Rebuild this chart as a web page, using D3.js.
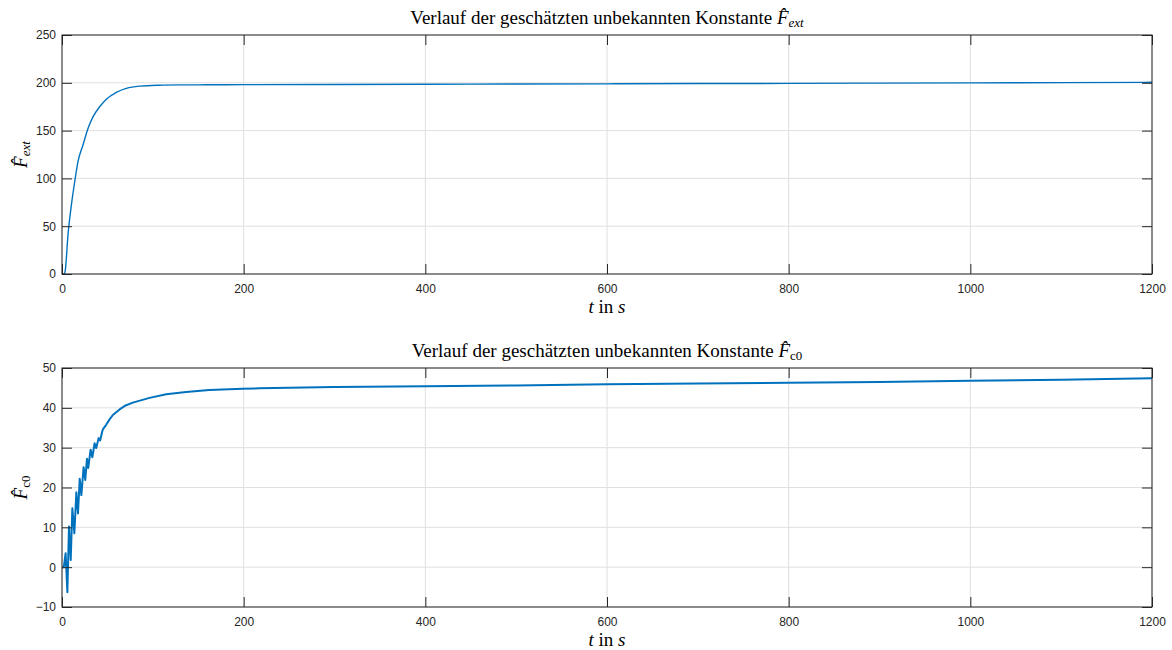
<!DOCTYPE html>
<html>
<head>
<meta charset="utf-8">
<script src="https://cdn.jsdelivr.net/npm/d3@7"></script>
<style>
  body { margin: 0; background: #fff; }
  svg { display: block; }
  .tick text { font-family: "Liberation Sans", Arial, sans-serif; font-size: 12px; fill: #262626; }
  .ttl, .lbl { font-family: "Liberation Serif", "Times New Roman", serif; fill: #000; }
</style>
</head>
<body>
<svg id="chart" width="1172" height="650"></svg>
<script>
// Estimated external force F_ext over time
const tExt = [0, 2.5, 3.5, 6.6, 10.3, 14, 17.6, 23.1, 28.6, 34.1, 41.4, 48.8, 59.8, 70.8, 85.4, 107, 129, 160, 200, 300, 400, 500, 600, 700, 800, 900, 1000, 1100, 1200];
const fExt = [0, 0, 3, 41, 72, 96.6, 117.5, 135, 152.3, 164.4, 174.9, 182.9, 189.9, 194.1, 196.5, 197.5, 197.8, 197.9, 198.1, 198.3, 198.5, 198.7, 198.9, 199.2, 199.4, 199.7, 199.9, 200.2, 200.5];

// Estimated constant F_c0 over time
const tC0 = [0, 2, 4, 5.9, 7.7, 9.6, 11.4, 13.6, 15.8, 17.6, 19.5, 21.3, 23.8, 25.6, 27.5, 28.9, 31.5, 33.4, 35.9, 37.7, 40.3, 42, 44, 45, 48.8, 52.4, 56, 63.4, 70, 78, 96.4, 114.7, 136.7, 162, 199, 217, 300, 400, 500, 600, 700, 800, 900, 1000, 1100, 1150, 1200];
const fC0 = [0, 0, 3.5, -6.3, 10.2, 1.8, 14.8, 8.5, 18.8, 13.5, 22.2, 18.1, 25.1, 21.9, 27.2, 24.9, 29.5, 27.6, 31.1, 29.9, 32.4, 31.8, 33.8, 34.6, 35.8, 37.1, 38.2, 39.6, 40.6, 41.3, 42.5, 43.4, 44, 44.5, 44.8, 44.9, 45.2, 45.4, 45.6, 45.9, 46.1, 46.3, 46.5, 46.8, 47.05, 47.25, 47.4];

const xTicks = [0, 200, 400, 600, 800, 1000, 1200];
const yTicksExt = [0, 50, 100, 150, 200, 250];
const yTicksC0 = [-10, 0, 10, 20, 30, 40, 50];

const svg = d3.select("#chart");
const axisColor = "#262626";
const gridColor = "#dfdfdf";
const lineColor = "#0072BD";
const tickLen = 10;

function panel(cfg) {
  const { top, bottom, left, right, t, v, yDomain, yTicks, sub, subItalic, width, curve } = cfg;
  const x = d3.scaleLinear().domain([0, 1200]).range([left, right]);
  const y = d3.scaleLinear().domain(yDomain).range([bottom, top]);
  const g = svg.append("g");

  // grid
  g.append("g").selectAll("line").data(xTicks).join("line")
    .attr("x1", d => x(d)).attr("x2", d => x(d)).attr("y1", top).attr("y2", bottom)
    .attr("stroke", gridColor).attr("stroke-width", 1);
  g.append("g").selectAll("line").data(yTicks).join("line")
    .attr("y1", d => y(d)).attr("y2", d => y(d)).attr("x1", left).attr("x2", right)
    .attr("stroke", gridColor).attr("stroke-width", 1);

  // data line
  const line = d3.line().x((d, i) => x(t[i])).y(d => y(d)).curve(curve);
  g.append("path").datum(v).attr("d", line)
    .attr("fill", "none").attr("stroke", lineColor).attr("stroke-width", width)
    .attr("stroke-linejoin", "round");

  // axes with inward ticks on all four sides
  const bx = g.append("g").attr("transform", `translate(0,${bottom})`)
    .call(d3.axisBottom(x).tickValues(xTicks).tickSize(-tickLen).tickPadding(10).tickFormat(d3.format("d")));
  const tx = g.append("g").attr("transform", `translate(0,${top})`)
    .call(d3.axisTop(x).tickValues(xTicks).tickSize(-tickLen).tickFormat(""));
  const ly = g.append("g").attr("transform", `translate(${left},0)`)
    .call(d3.axisLeft(y).tickValues(yTicks).tickSize(-tickLen).tickPadding(6).tickFormat(d3.format("d")));
  const ry = g.append("g").attr("transform", `translate(${right},0)`)
    .call(d3.axisRight(y).tickValues(yTicks).tickSize(-tickLen).tickFormat(""));
  [bx, tx, ly, ry].forEach(a => {
    a.select(".domain").remove();
    a.selectAll(".tick line").attr("stroke", axisColor).attr("stroke-width", 1);
  });

  // box
  g.append("rect").attr("x", left).attr("y", top).attr("width", right - left).attr("height", bottom - top)
    .attr("fill", "none").attr("stroke", axisColor).attr("stroke-width", 1);

  // title
  const cx = (left + right) / 2;
  const title = g.append("text").attr("class", "ttl").attr("x", cx).attr("y", top - 11)
    .attr("text-anchor", "middle").attr("font-size", 19);
  title.append("tspan").text("Verlauf der geschätzten unbekannten Konstante ");
  title.append("tspan").attr("font-style", "italic").text("F\u0302");
  title.append("tspan").attr("font-style", subItalic ? "italic" : "normal").attr("font-size", 13).attr("dy", 3).text(sub);

  // x label
  const xl = g.append("text").attr("class", "lbl").attr("x", cx).attr("y", bottom + 39)
    .attr("text-anchor", "middle").attr("font-size", 19);
  xl.append("tspan").attr("font-style", "italic").text("t");
  xl.append("tspan").text(" in ");
  xl.append("tspan").attr("font-style", "italic").text("s");

  // y label
  const yl = g.append("text").attr("class", "lbl")
    .attr("transform", `translate(${left - 35},${(top + bottom) / 2}) rotate(-90)`)
    .attr("text-anchor", "middle").attr("font-size", 19);
  yl.append("tspan").attr("font-style", "italic").text("F\u0302");
  yl.append("tspan").attr("font-style", subItalic ? "italic" : "normal").attr("font-size", 13).attr("dy", 3).text(sub);
}

panel({ top: 35, bottom: 274, left: 62, right: 1152, t: tExt, v: fExt, yDomain: [0, 250], yTicks: yTicksExt,
        sub: "ext", subItalic: true, width: 1.4, curve: d3.curveMonotoneX });
panel({ top: 368, bottom: 607, left: 62, right: 1152, t: tC0, v: fC0, yDomain: [-10, 50], yTicks: yTicksC0,
        sub: "c0", subItalic: false, width: 2, curve: d3.curveLinear });
</script>
</body>
</html>
